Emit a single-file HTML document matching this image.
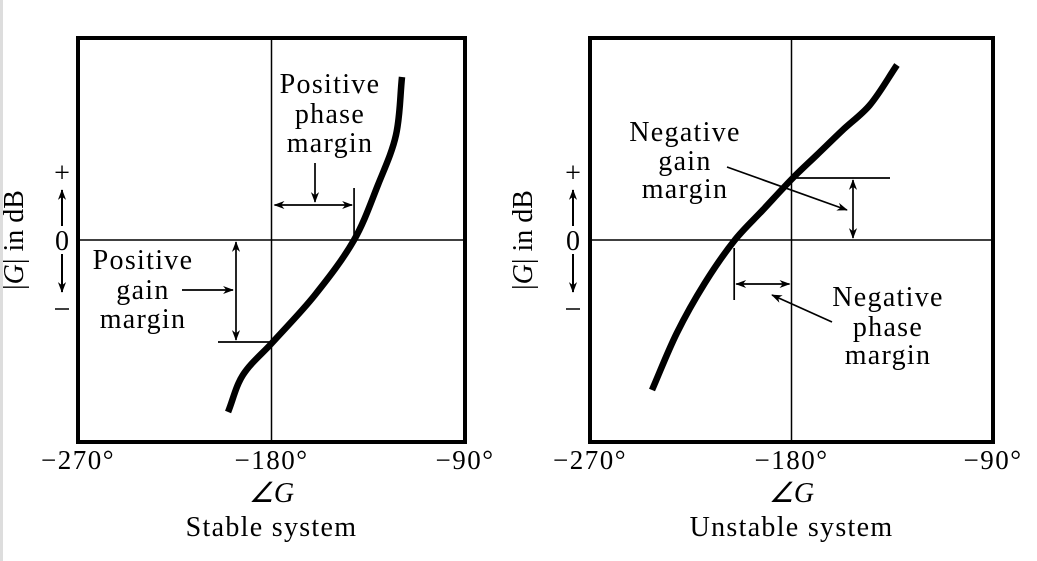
<!DOCTYPE html>
<html><head><meta charset="utf-8"><style>
body{margin:0;background:#fff;}
svg{display:block;font-family:"Liberation Serif",serif;}
</style></head><body>
<svg id="c" width="1037" height="561" viewBox="0 0 1037 561">
<defs>
<marker id="ah" viewBox="0 0 12 10" refX="11" refY="5" markerWidth="13" markerHeight="9" orient="auto-start-reverse" markerUnits="userSpaceOnUse"><path d="M0,0.5 L12,5 L0,9.5 L3.5,5 z" fill="#000"/></marker>
</defs>
<rect x="0" y="0" width="3" height="561" fill="#ddd"/>
<g id="root"></g>
</svg>
<script>
const leftPhase=[-119.3,-122.1,-130.5,-141.6,-159.8,-179.8,-193.3,-200.2];
const leftMag=[16.3,10.5,5.5,0,-5.5,-10.3,-13.5,-17.2];
const rightPhase=[-132.9,-145,-157.1,-168.7,-179.4,-192.8,-205.3,-218.7,-231.2,-242.3];
const rightMag=[17.5,13.5,11,8.5,6.2,3,0,-4.3,-9.3,-15];
const xTicks=["\u2212270\u00b0","\u2212180\u00b0","\u221290\u00b0"];
const xTickVals=[-270,-180,-90];
const leftGM=-10.2, leftPM=-141.6, rightGM=6.2, rightPM=-205.6;

const NS="http://www.w3.org/2000/svg";
const root=document.getElementById('root');
function mk(tag,attrs,parent,txt){const e=document.createElementNS(NS,tag);for(const k in attrs)e.setAttribute(k,attrs[k]);if(txt!==undefined)e.textContent=txt;(parent||root).appendChild(e);return e;}
function smooth(pts){
  // centripetal-ish Catmull-Rom using chord-length scaled tangents
  let d=`M${pts[0][0]},${pts[0][1]}`;
  const dist=(a,b)=>Math.hypot(a[0]-b[0],a[1]-b[1]);
  const tan=i=>{const p0=pts[Math.max(i-1,0)],p2=pts[Math.min(i+1,pts.length-1)];const L=dist(p0,p2)||1;return [(p2[0]-p0[0])/L,(p2[1]-p0[1])/L];};
  for(let i=0;i<pts.length-1;i++){const p1=pts[i],p2=pts[i+1],s=dist(p1,p2)/3,t1=tan(i),t2=tan(i+1);
    d+=` C${p1[0]+t1[0]*s},${p1[1]+t1[1]*s} ${p2[0]-t2[0]*s},${p2[1]-t2[1]*s} ${p2[0]},${p2[1]}`;}
  return d;}

function panel(name,x0,x1,phase,mag,title,ylx,zx){
  const y0=38,y1=442,yZero=240;
  const sx=v=>x0+(v+270)/180*(x1-x0);
  const sy=m=>yZero-m*10;
  const g=mk('g',{});
  
  
  const b=mk('rect',{x:x0,y:y0,width:x1-x0,height:y1-y0,fill:'none',stroke:'#000','stroke-width':4},g);
  
  const v=mk('line',{x1:sx(-180),x2:sx(-180),y1:y0,y2:y1,stroke:'#000','stroke-width':1.5},g);
  
  const h=mk('line',{x1:x0,x2:x1,y1:sy(0),y2:sy(0),stroke:'#000','stroke-width':1.5},g);
  
  const pts=phase.map((p,i)=>[sx(p),sy(mag[i])]);
  const c=mk('path',{d:smooth(pts),fill:'none',stroke:'#000','stroke-width':6.5,'stroke-linecap':'butt'},g);
  
  xTicks.forEach((t,i)=>{const e=mk('text',{x:sx(xTickVals[i]),y:469,'font-size':27,'letter-spacing':1.5,'text-anchor':'middle'},g,t);
    });
  const ang=mk('text',{x:sx(-180),y:502,'font-size':28,'text-anchor':'middle','font-style':'italic'},g,'\u2220G');
  
  const tt=mk('text',{x:sx(-180),y:536,'font-size':28,'letter-spacing':1.3,'text-anchor':'middle'},g,title);
  
  const yl=mk('text',{x:0,y:0,'font-size':28,'text-anchor':'middle',transform:`translate(${ylx},240) rotate(-90)`},g);
  
  mk('tspan',{},yl,'|');mk('tspan',{'font-style':'italic'},yl,'G');mk('tspan',{},yl,'| in dB');
  const z=mk('text',{x:zx,y:250,'font-size':28,'text-anchor':'middle'},g,'0');
  
  const au=mk('line',{x1:zx,x2:zx,y1:226,y2:190,stroke:'#000','stroke-width':2,'marker-end':'url(#ah)'},g);
  
  const ad=mk('line',{x1:zx,x2:zx,y1:254,y2:292,stroke:'#000','stroke-width':2,'marker-end':'url(#ah)'},g);
  
  const pl=mk('text',{x:zx,y:182,'font-size':28,'text-anchor':'middle'},g,'+');
  
  const mn=mk('line',{x1:zx-7,x2:zx+7,y1:309,y2:309,stroke:'#000','stroke-width':1.5},g);
  
  return {g,sx,sy};
}
function line(g,n,a,b,c,d,m1,m2){const e=mk('line',{x1:a,y1:b,x2:c,y2:d,stroke:'#000','stroke-width':1.7},g);if(m1)e.setAttribute('marker-start','url(#ah)');if(m2)e.setAttribute('marker-end','url(#ah)');return e;}
function label(g,n,x,ys,lines){const t=mk('text',{'font-size':28,'letter-spacing':1.3,'text-anchor':'middle'},g);lines.forEach((l,i)=>mk('tspan',{x:x,y:ys[i]},t,l));}

const L=panel('stable',78,465,leftPhase,leftMag,'Stable system',23,62);
{const g=L.g,sx=L.sx,sy=L.sy;
 line(g,'phase-margin-tick',sx(leftPM),188,sx(leftPM),sy(0));
 line(g,'phase-margin-arrow',sx(-180)+3,205,sx(leftPM)-2,205,true,true);
 line(g,'phase-margin-pointer',315,163,315,202,false,true);
 line(g,'gain-margin-tick',218,sy(leftGM),sx(-180),sy(leftGM));
 line(g,'gain-margin-arrow',236,sy(0)+2,236,sy(leftGM)-2,true,true);
 line(g,'gain-margin-pointer',182,290,233,290,false,true);
 label(g,'positive-phase-margin-label',330,[93,123,152],['Positive','phase','margin']);
 label(g,'positive-gain-margin-label',143,[269,299,328],['Positive','gain','margin']);
}
const R=panel('unstable',590,993,rightPhase,rightMag,'Unstable system',532,573);
{const g=R.g,sx=R.sx,sy=R.sy;
 line(g,'gain-margin-tick',sx(-180),sy(rightGM),890,sy(rightGM));
 line(g,'gain-margin-arrow',853,sy(rightGM)+2,853,sy(0)-2,true,true);
 line(g,'gain-margin-pointer',727,167,847,210,false,true);
 line(g,'phase-margin-tick',sx(rightPM),248,sx(rightPM),300);
 line(g,'phase-margin-arrow',sx(rightPM)+2,284,sx(-180)-2,284,true,true);
 line(g,'phase-margin-pointer',832,322,772,295,false,true);
 label(g,'negative-gain-margin-label',685,[141,170,198],['Negative','gain','margin']);
 label(g,'negative-phase-margin-label',888,[306,336,364],['Negative','phase','margin']);
}
</script>
</body></html>
